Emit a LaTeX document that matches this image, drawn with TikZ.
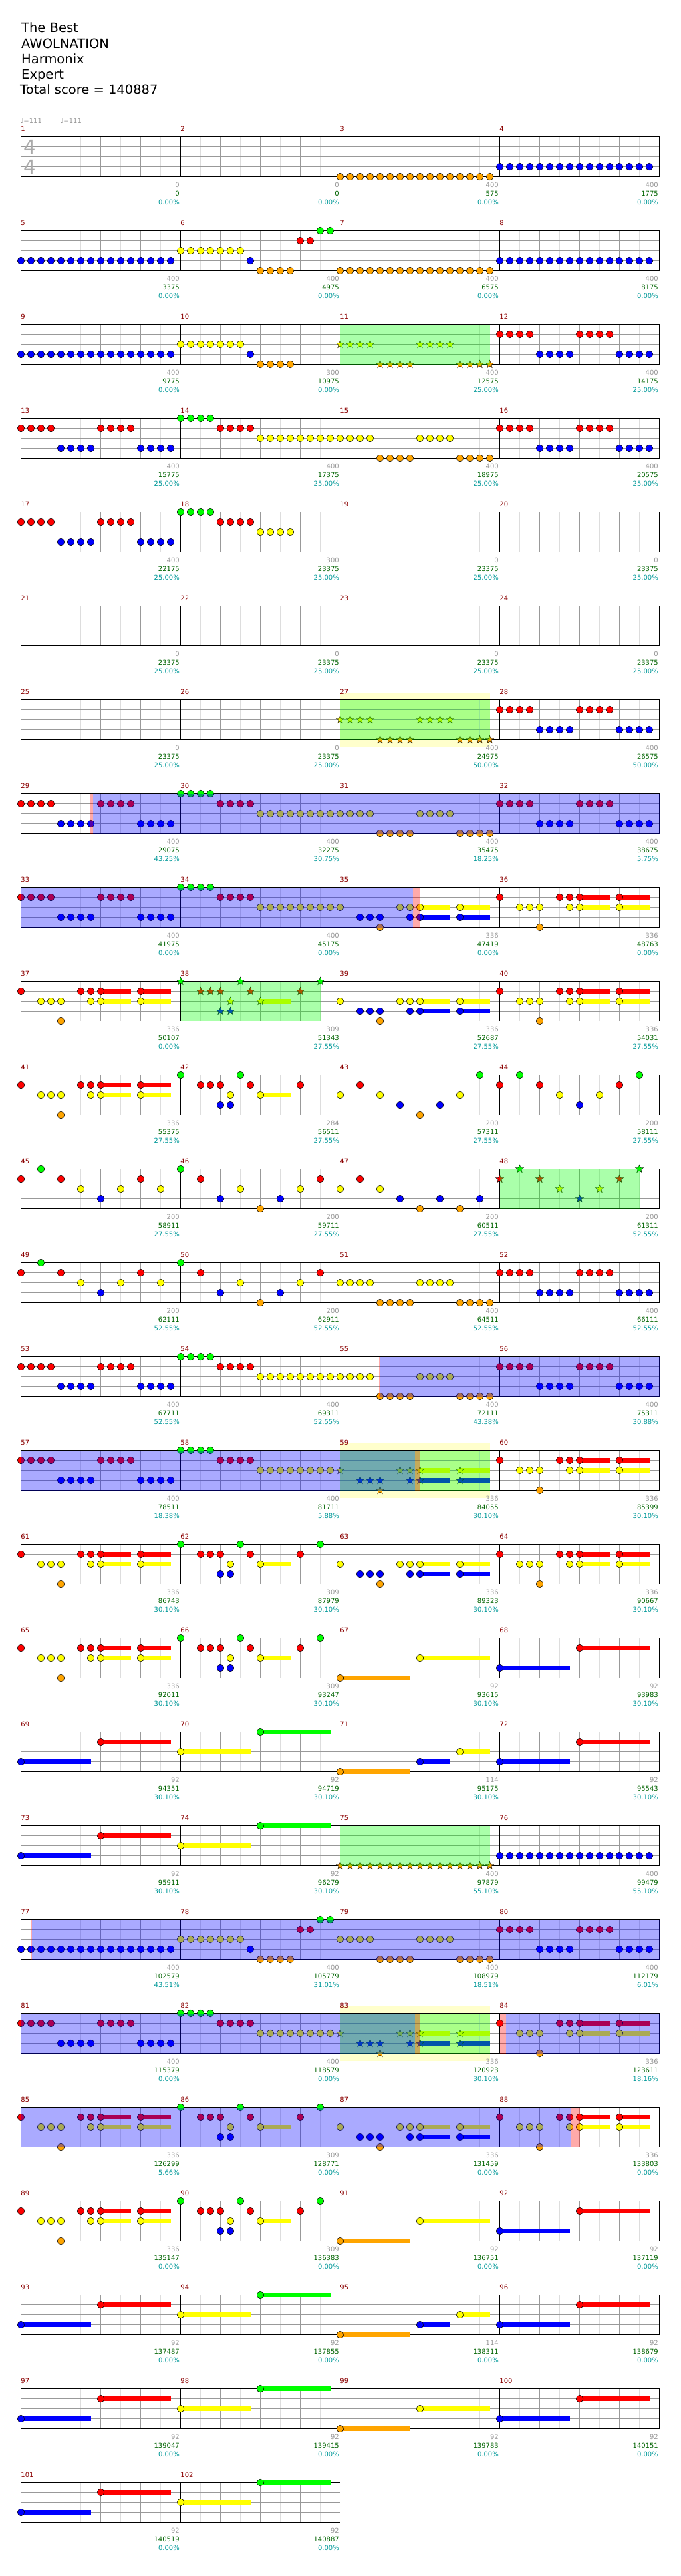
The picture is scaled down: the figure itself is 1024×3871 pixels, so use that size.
\documentclass[tikz,border=0pt]{standalone}
\usepackage{fontspec}
\setmainfont{DejaVu Sans}
\definecolor{lane0}{RGB}{0,255,0}
\definecolor{lane1}{RGB}{255,0,0}
\definecolor{lane2}{RGB}{255,255,0}
\definecolor{lane3}{RGB}{0,0,255}
\definecolor{lane4}{RGB}{255,165,0}
\definecolor{gridlight}{RGB}{221,221,221}
\definecolor{griddark}{RGB}{153,153,153}
\definecolor{mnumc}{RGB}{139,0,0}
\definecolor{graytxt}{RGB}{153,153,153}
\definecolor{greentxt}{RGB}{0,100,0}
\definecolor{tealtxt}{RGB}{0,153,153}
\definecolor{ybg}{RGB}{255,255,204}
\definecolor{sigc}{RGB}{170,170,170}
\definecolor{ovg}{RGB}{0,255,0}
\definecolor{ovb}{RGB}{0,0,255}
\definecolor{ovr}{RGB}{255,0,0}
\tikzset{
  lightline/.style={draw=gridlight,line width=0.8pt},
  darkline/.style={draw=griddark,line width=0.8pt},
  blackline/.style={draw=black,line width=0.9pt},
  smalltxt/.style={inner sep=0pt,font=\fontsize{10}{12}\selectfont},
  mnum/.style={smalltxt,text=mnumc,anchor=west},
  scoretxt/.style={smalltxt,anchor=east},
  headtxt/.style={inner sep=0pt,anchor=base west,font=\fontsize{19.5}{23}\selectfont},
  notec/.style={draw=black,line width=0.5pt},
  ovl/.style={opacity=0.333},
}
\newcommand\drawstar[3]{\filldraw[fill=#3,draw=black,line width=0.4pt] (#1,#2) +(90:6.3pt) -- +(126:2.6pt) -- +(162:6.3pt) -- +(198:2.6pt) -- +(234:6.3pt) -- +(270:2.6pt) -- +(306:6.3pt) -- +(342:2.6pt) -- +(18:6.3pt) -- +(54:2.6pt) -- cycle;}
\newcommand\Grid[2]{%
  \pgfmathsetmacro\gy{205.5+141*#1}%
  \pgfmathsetmacro\gx{31.5+240*#2}%
  \pgfmathtruncatemacro\gn{#2-1}%
  \foreach \k in {0,...,\gn} {%
    \foreach \o in {30,90,150,210} {\draw[lightline] ({31.5+240*\k+\o},\gy) -- ++(0,60);}
    \foreach \o in {60,120,180} {\draw[darkline] ({31.5+240*\k+\o},\gy) -- ++(0,60);}
  }%
  \foreach \h in {15,30,45} {\draw[darkline] (31.5,\gy+\h) -- (\gx,\gy+\h);}
  \foreach \k in {1,...,\gn} {\draw[blackline] ({31.5+240*\k},\gy) -- ++(0,60);}
  \draw[blackline] (31.5,\gy) rectangle (\gx,\gy+60);
}
\newcommand\Meas[6]{%
  \pgfmathtruncatemacro\mrow{(#1-1)/4}%
  \pgfmathtruncatemacro\mcol{mod(#1-1,4)}%
  \pgfmathsetmacro\mx{31.5+240*\mcol}%
  \pgfmathsetmacro\my{205.5+141*\mrow}%
  \edef\curlist{#3}%
  \ifx\curlist\empty\else
    \foreach \qp/\ql/\qs in \curlist {%
      \pgfmathsetmacro\nx{\mx+15*\qp}%
      \pgfmathsetmacro\ny{\my+15*\ql}%
      \ifnum\qs>0\relax
        \pgfmathsetmacro\bx{\nx+15*\qs}%
        \fill[fill=lane\ql] (\nx,\ny-3.5) rectangle (\bx,\ny+3.5);%
      \fi
      \if#2s\drawstar{\nx}{\ny}{lane\ql}\else
        \filldraw[notec,fill=lane\ql] (\nx,\ny) circle[radius=5.3pt];\fi
    }%
  \fi
  \pgfmathsetmacro\ex{\mx+240-1.5}%
  \node[mnum] (mn#1) at (\mx-0.3,\my-11.5) {#1};
  \node[scoretxt,text=graytxt] (mg#1) at (\ex,\my+72.5) {#4};
  \node[scoretxt,text=greentxt] (ms#1) at (\ex,\my+85.5) {#5};
  \node[scoretxt,text=tealtxt] (mp#1) at (\ex,\my+98.5) {#6};
}
\newcommand\Ov[4]{\pgfmathsetmacro\oy{205.5+141*#2}\fill[#1,ovl] (#3,\oy) rectangle (#4,\oy+60);}
\newcommand\Ybg[1]{\pgfmathsetmacro\oy{205.5+141*#1}\fill[ybg] (511.5,\oy-10.5) rectangle (736.5,\oy+71);}
\def\patD{0/1/0,1/1/0,2/1/0,3/1/0,4/3/0,5/3/0,6/3/0,7/3/0,8/1/0,9/1/0,10/1/0,11/1/0,12/3/0,13/3/0,14/3/0,15/3/0}
\def\patE{0/0/0,1/0/0,2/0/0,3/0/0,4/1/0,5/1/0,6/1/0,7/1/0,8/2/0,9/2/0,10/2/0,11/2/0,12/2/0,13/2/0,14/2/0,15/2/0}
\def\patF{0/2/0,1/2/0,2/2/0,3/2/0,4/4/0,5/4/0,6/4/0,7/4/0,8/2/0,9/2/0,10/2/0,11/2/0,12/4/0,13/4/0,14/4/0,15/4/0}
\def\patBl{0/3/0,1/3/0,2/3/0,3/3/0,4/3/0,5/3/0,6/3/0,7/3/0,8/3/0,9/3/0,10/3/0,11/3/0,12/3/0,13/3/0,14/3/0,15/3/0}
\def\patOr{0/4/0,1/4/0,2/4/0,3/4/0,4/4/0,5/4/0,6/4/0,7/4/0,8/4/0,9/4/0,10/4/0,11/4/0,12/4/0,13/4/0,14/4/0,15/4/0}
\def\patG{0/2/0,1/2/0,2/2/0,3/2/0,4/2/0,5/2/0,6/2/0,7/3/0,8/4/0,9/4/0,10/4/0,11/4/0,12/1/0,13/1/0,14/0/0,15/0/0}
\def\patTen{0/2/0,1/2/0,2/2/0,3/2/0,4/2/0,5/2/0,6/2/0,7/3/0,8/4/0,9/4/0,10/4/0,11/4/0}
\def\patEi{0/0/0,1/0/0,2/0/0,3/0/0,4/1/0,5/1/0,6/1/0,7/1/0,8/2/0,9/2/0,10/2/0,11/2/0}
\def\patA{0/1/0,2/2/0,3/2/0,4/2/0,4/4/0,6/1/0,7/1/0,7/2/0,8/1/3,8/2/3,12/1/3,12/2/3}
\def\patB{0/2/0,2/3/0,3/3/0,4/3/0,4/4/0,6/2/0,7/2/0,7/3/0,8/2/3,8/3/3,12/2/3,12/3/3}
\def\patC{0/0/0,2/1/0,3/1/0,4/1/0,4/3/0,5/2/0,5/3/0,6/0/0,7/1/0,8/2/3,12/1/0}
\def\patCp{\patC,14/0/0}
\def\patH{0/1/0,2/0/0,4/1/0,6/2/0,8/3/0,10/2/0,12/1/0,14/0/0}
\def\patI{0/2/0,2/1/0,4/2/0,6/3/0,8/4/0,10/3/0,12/2/0,14/0/0}
\def\patJ{0/1/0,2/0/0,4/1/0,6/2/0,8/3/0,10/2/0,12/1/0,14/2/0}
\def\patK{0/0/0,2/1/0,4/3/0,6/2/0,8/4/0,10/3/0,12/2/0,14/1/0}
\def\patL{0/2/0,2/1/0,4/2/0,6/3/0,8/4/0,10/3/0,12/4/0,14/3/0}
\def\patBR{0/3/7,8/1/7}
\def\patYG{0/2/7,8/0/7}
\def\patOY{0/4/7,8/2/7}
\def\patOBY{0/4/7,8/3/3,12/2/3}
\begin{document}
\begin{tikzpicture}[x=1pt,y=-1pt]
\useasboundingbox[fill=white] (0,0) rectangle (1024,3871);
% header
\node[headtxt] (title) at (32,48.8) {The Best};
\node[headtxt] (artist) at (32,72.1) {AWOLNATION};
\node[headtxt] (author) at (32,95.4) {Harmonix};
\node[headtxt] (diff) at (32,118.8) {Expert};
\node[headtxt] (total) at (30,141.4) {Total score = 140887};
\node[inner sep=0pt,anchor=base west,text=graytxt,font=\fontsize{10}{12}\selectfont] (tempo1) at (30.5,185.3) {♩=111};
\node[inner sep=0pt,anchor=base west,text=graytxt,font=\fontsize{10}{12}\selectfont] (tempo2) at (90.5,185.3) {♩=111};
% row 0
\Grid{0}{4}
\node[inner sep=0pt,text=sigc,font=\fontsize{29}{29}\selectfont] (sig1) at (44.5,220.7) {4};
\node[inner sep=0pt,text=sigc,font=\fontsize{29}{29}\selectfont] (sig2) at (44.5,250.7) {4};
\Meas{1}{c}{}{0}{0}{0.00\%}
\Meas{2}{c}{}{0}{0}{0.00\%}
\Meas{3}{c}{\patOr}{400}{575}{0.00\%}
\Meas{4}{c}{\patBl}{400}{1775}{0.00\%}
% row 1
\Grid{1}{4}
\Meas{5}{c}{\patBl}{400}{3375}{0.00\%}
\Meas{6}{c}{\patG}{400}{4975}{0.00\%}
\Meas{7}{c}{\patOr}{400}{6575}{0.00\%}
\Meas{8}{c}{\patBl}{400}{8175}{0.00\%}
% row 2
\Grid{2}{4}
\Meas{9}{c}{\patBl}{400}{9775}{0.00\%}
\Meas{10}{c}{\patTen}{300}{10975}{0.00\%}
\Meas{11}{s}{\patF}{400}{12575}{25.00\%}
\Meas{12}{c}{\patD}{400}{14175}{25.00\%}
\Ov{ovg}{2}{511.5}{736.5}
% row 3
\Grid{3}{4}
\Meas{13}{c}{\patD}{400}{15775}{25.00\%}
\Meas{14}{c}{\patE}{400}{17375}{25.00\%}
\Meas{15}{c}{\patF}{400}{18975}{25.00\%}
\Meas{16}{c}{\patD}{400}{20575}{25.00\%}
% row 4
\Grid{4}{4}
\Meas{17}{c}{\patD}{400}{22175}{25.00\%}
\Meas{18}{c}{\patEi}{300}{23375}{25.00\%}
\Meas{19}{c}{}{0}{23375}{25.00\%}
\Meas{20}{c}{}{0}{23375}{25.00\%}
% row 5
\Grid{5}{4}
\Meas{21}{c}{}{0}{23375}{25.00\%}
\Meas{22}{c}{}{0}{23375}{25.00\%}
\Meas{23}{c}{}{0}{23375}{25.00\%}
\Meas{24}{c}{}{0}{23375}{25.00\%}
% row 6
\Ybg{6}
\Grid{6}{4}
\Meas{25}{c}{}{0}{23375}{25.00\%}
\Meas{26}{c}{}{0}{23375}{25.00\%}
\Meas{27}{s}{\patF}{400}{24975}{50.00\%}
\Meas{28}{c}{\patD}{400}{26575}{50.00\%}
\Ov{ovg}{6}{511.5}{736.5}
% row 7
\Grid{7}{4}
\Meas{29}{c}{\patD}{400}{29075}{43.25\%}
\Meas{30}{c}{\patE}{400}{32275}{30.75\%}
\Meas{31}{c}{\patF}{400}{35475}{18.25\%}
\Meas{32}{c}{\patD}{400}{38675}{5.75\%}
\Ov{ovb}{7}{140.4}{991.5}
\Ov{ovr}{7}{135.9}{140.4}
% row 8
\Grid{8}{4}
\Meas{33}{c}{\patD}{400}{41975}{0.00\%}
\Meas{34}{c}{\patE}{400}{45175}{0.00\%}
\Meas{35}{c}{\patB}{336}{47419}{0.00\%}
\Meas{36}{c}{\patA}{336}{48763}{0.00\%}
\Ov{ovb}{8}{31.5}{620.8}
\Ov{ovr}{8}{620.8}{630.5}
% row 9
\Grid{9}{4}
\Meas{37}{c}{\patA}{336}{50107}{0.00\%}
\Meas{38}{s}{\patCp}{309}{51343}{27.55\%}
\Meas{39}{c}{\patB}{336}{52687}{27.55\%}
\Meas{40}{c}{\patA}{336}{54031}{27.55\%}
\Ov{ovg}{9}{271.5}{481.5}
% row 10
\Grid{10}{4}
\Meas{41}{c}{\patA}{336}{55375}{27.55\%}
\Meas{42}{c}{\patC}{284}{56511}{27.55\%}
\Meas{43}{c}{\patI}{200}{57311}{27.55\%}
\Meas{44}{c}{\patH}{200}{58111}{27.55\%}
% row 11
\Grid{11}{4}
\Meas{45}{c}{\patJ}{200}{58911}{27.55\%}
\Meas{46}{c}{\patK}{200}{59711}{27.55\%}
\Meas{47}{c}{\patL}{200}{60511}{27.55\%}
\Meas{48}{s}{\patH}{200}{61311}{52.55\%}
\Ov{ovg}{11}{751.5}{961.5}
% row 12
\Grid{12}{4}
\Meas{49}{c}{\patJ}{200}{62111}{52.55\%}
\Meas{50}{c}{\patK}{200}{62911}{52.55\%}
\Meas{51}{c}{\patF}{400}{64511}{52.55\%}
\Meas{52}{c}{\patD}{400}{66111}{52.55\%}
% row 13
\Grid{13}{4}
\Meas{53}{c}{\patD}{400}{67711}{52.55\%}
\Meas{54}{c}{\patE}{400}{69311}{52.55\%}
\Meas{55}{c}{\patF}{400}{72111}{43.38\%}
\Meas{56}{c}{\patD}{400}{75311}{30.88\%}
\Ov{ovb}{13}{571.8}{991.5}
\Ov{ovr}{13}{570.3}{571.8}
% row 14
\Ybg{14}
\Grid{14}{4}
\Meas{57}{c}{\patD}{400}{78511}{18.38\%}
\Meas{58}{c}{\patE}{400}{81711}{5.88\%}
\Meas{59}{s}{\patB}{336}{84055}{30.10\%}
\Meas{60}{c}{\patA}{336}{85399}{30.10\%}
\Ov{ovg}{14}{511.5}{736.5}
\Ov{ovb}{14}{31.5}{624}
\Ov{ovr}{14}{624}{630.5}
% row 15
\Grid{15}{4}
\Meas{61}{c}{\patA}{336}{86743}{30.10\%}
\Meas{62}{c}{\patCp}{309}{87979}{30.10\%}
\Meas{63}{c}{\patB}{336}{89323}{30.10\%}
\Meas{64}{c}{\patA}{336}{90667}{30.10\%}
% row 16
\Grid{16}{4}
\Meas{65}{c}{\patA}{336}{92011}{30.10\%}
\Meas{66}{c}{\patCp}{309}{93247}{30.10\%}
\Meas{67}{c}{\patOY}{92}{93615}{30.10\%}
\Meas{68}{c}{\patBR}{92}{93983}{30.10\%}
% row 17
\Grid{17}{4}
\Meas{69}{c}{\patBR}{92}{94351}{30.10\%}
\Meas{70}{c}{\patYG}{92}{94719}{30.10\%}
\Meas{71}{c}{\patOBY}{114}{95175}{30.10\%}
\Meas{72}{c}{\patBR}{92}{95543}{30.10\%}
% row 18
\Grid{18}{4}
\Meas{73}{c}{\patBR}{92}{95911}{30.10\%}
\Meas{74}{c}{\patYG}{92}{96279}{30.10\%}
\Meas{75}{s}{\patOr}{400}{97879}{55.10\%}
\Meas{76}{c}{\patBl}{400}{99479}{55.10\%}
\Ov{ovg}{18}{511.5}{736.5}
% row 19
\Grid{19}{4}
\Meas{77}{c}{\patBl}{400}{102579}{43.51\%}
\Meas{78}{c}{\patG}{400}{105779}{31.01\%}
\Meas{79}{c}{\patF}{400}{108979}{18.51\%}
\Meas{80}{c}{\patD}{400}{112179}{6.01\%}
\Ov{ovb}{19}{48}{991.5}
\Ov{ovr}{19}{45.5}{48}
% row 20
\Ybg{20}
\Grid{20}{4}
\Meas{81}{c}{\patD}{400}{115379}{0.00\%}
\Meas{82}{c}{\patE}{400}{118579}{0.00\%}
\Meas{83}{s}{\patB}{336}{120923}{30.10\%}
\Meas{84}{c}{\patA}{336}{123611}{18.16\%}
\Ov{ovg}{20}{511.5}{736.5}
\Ov{ovb}{20}{31.5}{624}
\Ov{ovr}{20}{624}{630.5}
\Ov{ovr}{20}{751.5}{761}
\Ov{ovb}{20}{761}{991.5}
% row 21
\Grid{21}{4}
\Meas{85}{c}{\patA}{336}{126299}{5.66\%}
\Meas{86}{c}{\patCp}{309}{128771}{0.00\%}
\Meas{87}{c}{\patB}{336}{131459}{0.00\%}
\Meas{88}{c}{\patA}{336}{133803}{0.00\%}
\Ov{ovb}{21}{31.5}{859}
\Ov{ovr}{21}{859}{871.5}
% row 22
\Grid{22}{4}
\Meas{89}{c}{\patA}{336}{135147}{0.00\%}
\Meas{90}{c}{\patCp}{309}{136383}{0.00\%}
\Meas{91}{c}{\patOY}{92}{136751}{0.00\%}
\Meas{92}{c}{\patBR}{92}{137119}{0.00\%}
% row 23
\Grid{23}{4}
\Meas{93}{c}{\patBR}{92}{137487}{0.00\%}
\Meas{94}{c}{\patYG}{92}{137855}{0.00\%}
\Meas{95}{c}{\patOBY}{114}{138311}{0.00\%}
\Meas{96}{c}{\patBR}{92}{138679}{0.00\%}
% row 24
\Grid{24}{4}
\Meas{97}{c}{\patBR}{92}{139047}{0.00\%}
\Meas{98}{c}{\patYG}{92}{139415}{0.00\%}
\Meas{99}{c}{\patOY}{92}{139783}{0.00\%}
\Meas{100}{c}{\patBR}{92}{140151}{0.00\%}
% row 25
\Grid{25}{2}
\Meas{101}{c}{\patBR}{92}{140519}{0.00\%}
\Meas{102}{c}{\patYG}{92}{140887}{0.00\%}
\end{tikzpicture}
\end{document}
